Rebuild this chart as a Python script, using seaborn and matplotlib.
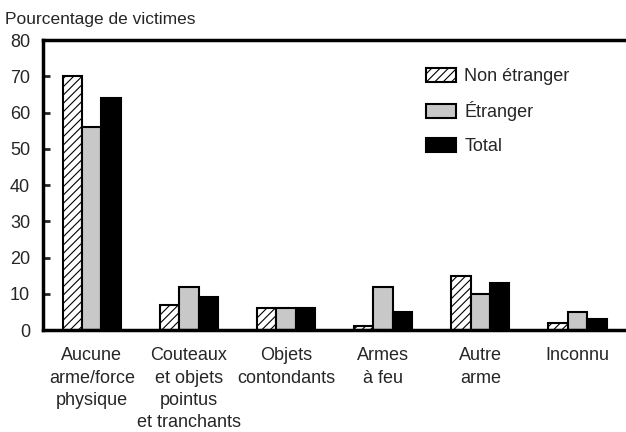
import pandas as pd
import numpy as np
import matplotlib
matplotlib.use("Agg")
import matplotlib.pyplot as plt
import seaborn as sns

categories = ["Aucune\narme/force\nphysique", "Couteaux\net objets\npointus\net tranchants",
              "Objets\ncontondants", "Armes\nà feu", "Autre\narme", "Inconnu"]
non_etranger = [70, 7, 6, 1, 15, 2]
etranger = [56, 12, 6, 12, 10, 5]
total = [64, 9, 6, 5, 13, 3]
series = ["Non étranger", "Étranger", "Total"]

df = pd.DataFrame({
    "cat": categories * 3,
    "serie": [series[0]] * 6 + [series[1]] * 6 + [series[2]] * 6,
    "val": non_etranger + etranger + total,
})

sns.set_style("white")
plt.rcParams['font.family'] = ['Liberation Sans', 'DejaVu Sans']
plt.rcParams['font.size'] = 13
plt.rcParams['hatch.linewidth'] = 0.8

fig = plt.figure(figsize=(6.26, 4.32), dpi=100)
ax = fig.add_axes([0.069, 0.236, 0.931, 0.671])
sns.barplot(data=df, x="cat", y="val", hue="serie", order=categories, hue_order=series,
            palette=["white", "#c8c8c8", "black"], width=0.6, edgecolor="black",
            linewidth=1.5, saturation=1, ax=ax)

for bar in ax.containers[0]:
    bar.set_hatch("////")

ax.set_xlim(-0.5, 5.5)
ax.set_ylim(0, 80)
ax.set_yticks(range(0, 81, 10))
ax.set_xlabel("")
ax.set_ylabel("")
ax.tick_params(axis="y", direction="in", length=5, width=2, left=True, pad=9.5, labelsize=13)
ax.tick_params(axis="x", length=0, pad=12.5, labelsize=13)
for t in ax.get_xticklabels():
    t.set_linespacing(1.4)
for s in ["left", "bottom", "top"]:
    ax.spines[s].set_linewidth(2.5)
    ax.spines[s].set_color("black")
ax.spines["right"].set_visible(False)

fig.text(0.008, 0.955, "Pourcentage de victimes", fontsize=12.5, va="center", ha="left")

leg = ax.legend(loc="upper left", bbox_to_anchor=(0.657, 0.905), frameon=False,
                fontsize=13, handlelength=1.66, handleheight=0.83, labelspacing=0.9,
                handletextpad=0.45, borderpad=0, borderaxespad=0)
for h in leg.legend_handles:
    h.set_linewidth(1.5)
leg.legend_handles[0].set_hatch("////")

fig.savefig("out.png", dpi=100)
